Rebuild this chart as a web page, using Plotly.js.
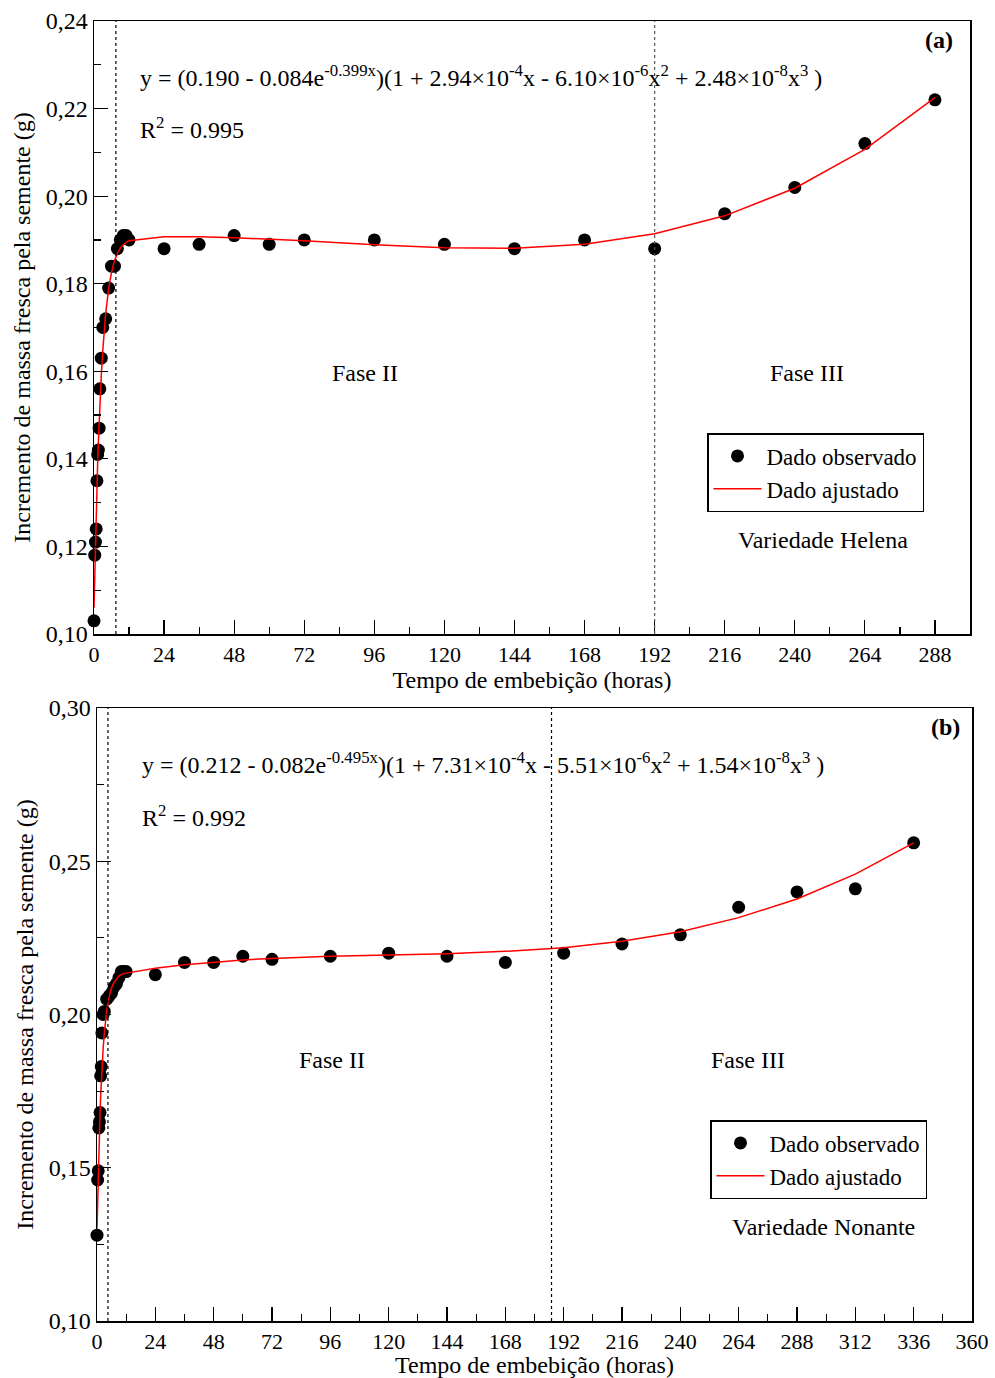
<!DOCTYPE html>
<html>
<head>
<meta charset="utf-8">
<script src="https://cdn.plot.ly/plotly-3.0.1.min.js"></script>
<style>html,body{margin:0;padding:0;background:#fff;}#chart{width:995px;height:1378px;}</style>
</head>
<body>
<div id="chart"></div>
<script>
// Panel (a) - Variedade Helena
const hoursA = [0,0.25,0.5,0.75,1,1.25,1.5,1.75,2,2.5,3,4,5,6,7,8,9,10,11,12,24,36,48,60,72,96,120,144,168,192,216,240,264,288];
const observedA = [0.103,0.118,0.121,0.124,0.135,0.141,0.142,0.147,0.156,0.163,0.170,0.172,0.179,0.184,0.184,0.188,0.190,0.191,0.191,0.190,0.188,0.189,0.191,0.189,0.190,0.190,0.189,0.188,0.190,0.188,0.196,0.202,0.212,0.222];
const fittedA = [0.1060,0.1140,0.1212,0.1277,0.1337,0.1391,0.1439,0.1483,0.1523,0.1591,0.1647,0.1732,0.1788,0.1826,0.1852,0.1869,0.1881,0.1889,0.1894,0.1898,0.1907,0.1907,0.1905,0.1902,0.1898,0.1889,0.1882,0.1881,0.1890,0.1914,0.1955,0.2018,0.2107,0.2225];
const phasesA = [7.5, 192];

// Panel (b) - Variedade Nonante
const hoursB = [0,0.25,0.5,0.75,1,1.25,1.5,1.75,2,2.5,3,4,5,6,7,8,9,10,11,12,24,36,48,60,72,96,120,144,168,192,216,240,264,288,312,336];
const observedB = [0.128,0.146,0.149,0.163,0.165,0.168,0.180,0.183,0.194,0.200,0.201,0.205,0.206,0.207,0.209,0.210,0.212,0.214,0.214,0.214,0.213,0.217,0.217,0.219,0.218,0.219,0.220,0.219,0.217,0.220,0.223,0.226,0.235,0.240,0.241,0.256];
const fittedB = [0.1300,0.1395,0.1481,0.1555,0.1621,0.1680,0.1732,0.1777,0.1818,0.1885,0.1938,0.2013,0.2058,0.2087,0.2105,0.2116,0.2125,0.2130,0.2134,0.2135,0.2151,0.2162,0.2171,0.2178,0.2183,0.2190,0.2194,0.2198,0.2206,0.2218,0.2239,0.2270,0.2316,0.2377,0.2458,0.2560];
const phasesB = [4.5, 187];

const xTicksA = [0,24,48,72,96,120,144,168,192,216,240,264,288];
const xTicksB = [0,24,48,72,96,120,144,168,192,216,240,264,288,312,336,360];

const serif = '"Liberation Serif", "Times New Roman", Times, serif';
const fontMain = {family: serif, size: 24, color: '#000'};
const fontTickY = {family: serif, size: 24, color: '#000'};
const fontTickX = {family: serif, size: 22, color: '#000'};
const fontLeg = {family: serif, size: 23, color: '#000'};

const traces = [
  {x: hoursA, y: observedA, xaxis:'x', yaxis:'y', mode:'markers', name:'Dado observado', legend:'legend',
   marker:{color:'#000', size:13}, cliponaxis:false},
  {x: hoursA, y: fittedA, xaxis:'x', yaxis:'y', mode:'lines', name:'Dado ajustado', legend:'legend',
   line:{color:'#ff0000', width:1.5}, cliponaxis:false},
  {x: hoursB, y: observedB, xaxis:'x2', yaxis:'y2', mode:'markers', name:'Dado observado', legend:'legend2',
   marker:{color:'#000', size:13}, cliponaxis:false},
  {x: hoursB, y: fittedB, xaxis:'x2', yaxis:'y2', mode:'lines', name:'Dado ajustado', legend:'legend2',
   line:{color:'#ff0000', width:1.5}, cliponaxis:false}
];

const axisCommon = {
  showgrid:false, zeroline:false, showline:true, mirror:true, linecolor:'#000', linewidth:1.5,
  ticks:'inside', ticklen:14, tickwidth:1.2, tickcolor:'#000'
};

const shapes = [];
phasesA.forEach((p,i) => shapes.push({type:'line', xref:'x', yref:'y domain', x0:p, x1:p, y0:0, y1:1,
  line:{color: i===0 ? '#000' : '#555', width:1.2, dash:'dot'}}));
phasesB.forEach(p => shapes.push({type:'line', xref:'x2', yref:'y2 domain', x0:p, x1:p, y0:0, y1:1,
  line:{color:'#000', width:1.2, dash:'dot'}}));

const eqA = 'y = (0.190 - 0.084e<sup>-0.399x</sup>)(1 + 2.94×10<sup>-4</sup>x - 6.10×10<sup>-6</sup>x<sup>2</sup> + 2.48×10<sup>-8</sup>x<sup>3</sup> )';
const eqB = 'y = (0.212 - 0.082e<sup>-0.495x</sup>)(1 + 7.31×10<sup>-4</sup>x - 5.51×10<sup>-6</sup>x<sup>2</sup> + 1.54×10<sup>-8</sup>x<sup>3</sup> )';

function ann(ax, text, x, y, xanchor, extra) {
  return Object.assign({xref: ax[0]+' domain', yref: ax[1]+' domain', x:x, y:y, text:text,
    showarrow:false, xanchor:xanchor, yanchor:'middle', font: fontMain}, extra||{});
}
const A = ['x','y'], B = ['x2','y2'];
const annotations = [
  ann(A, eqA, 0.050, 0.910, 'left'),
  ann(A, 'R<sup>2</sup> = 0.995', 0.050, 0.826, 'left'),
  ann(A, '<b>(a)</b>', 0.983, 0.969, 'right'),
  ann(A, 'Fase II', 0.309, 0.426, 'center'),
  ann(A, 'Fase III', 0.814, 0.426, 'center'),
  ann(A, 'Variedade Helena', 0.832, 0.153, 'center'),
  ann(B, eqB, 0.049, 0.910, 'left'),
  ann(B, 'R<sup>2</sup> = 0.992', 0.049, 0.824, 'left'),
  ann(B, '<b>(b)</b>', 0.988, 0.969, 'right'),
  ann(B, 'Fase II', 0.2686, 0.426, 'center'),
  ann(B, 'Fase III', 0.744, 0.426, 'center'),
  ann(B, 'Variedade Nonante', 0.830, 0.153, 'center')
];

const layout = {
  width: 995, height: 1378,
  margin: {l:0, r:0, t:0, b:0},
  paper_bgcolor:'#fff', plot_bgcolor:'#fff',
  separators: ',.',
  font: fontMain,
  showlegend: true,
  xaxis: Object.assign({}, axisCommon, {domain:[94/995, 970/995], range:[0,300], tickvals:xTicksA, tickfont:fontTickX,
    minor:{dtick:12, tick0:0, ticks:'inside', ticklen:7, tickwidth:1.2, tickcolor:'#000'},
    title:{text:'Tempo de embebição (horas)', font:fontMain, standoff:0}, anchor:'y'}),
  yaxis: Object.assign({}, axisCommon, {domain:[1-634/1378, 1-21/1378], range:[0.10,0.24], dtick:0.02, tick0:0.10,
    tickformat:'.2f', tickfont:fontTickY,
    minor:{dtick:0.01, tick0:0.10, ticks:'inside', ticklen:7, tickwidth:1.2, tickcolor:'#000'},
    title:{text:'Incremento de massa fresca pela semente (g)', font:fontMain, standoff:8}, anchor:'x'}),
  xaxis2: Object.assign({}, axisCommon, {domain:[97/995, 972/995], range:[0,360], tickvals:xTicksB, tickfont:fontTickX,
    minor:{dtick:12, tick0:0, ticks:'inside', ticklen:7, tickwidth:1.2, tickcolor:'#000'},
    title:{text:'Tempo de embebição (horas)', font:fontMain, standoff:0}, anchor:'y2'}),
  yaxis2: Object.assign({}, axisCommon, {domain:[1-1321/1378, 1-708/1378], range:[0.10,0.30], dtick:0.05, tick0:0.10,
    tickformat:'.2f', tickfont:fontTickY,
    minor:{dtick:0.025, tick0:0.10, ticks:'inside', ticklen:7, tickwidth:1.2, tickcolor:'#000'},
    title:{text:'Incremento de massa fresca pela semente (g)', font:fontMain, standoff:8}, anchor:'x2'}),
  legend: {x:707/995, y:1-433/1378, xanchor:'left', yanchor:'top', bgcolor:'#fff', bordercolor:'#000', borderwidth:1.5,
    font:fontLeg, tracegroupgap:0, itemwidth:48},
  legend2: {x:710/995, y:1-1120/1378, xanchor:'left', yanchor:'top', bgcolor:'#fff', bordercolor:'#000', borderwidth:1.5,
    font:fontLeg, tracegroupgap:0, itemwidth:48},
  shapes: shapes,
  annotations: annotations
};

Plotly.newPlot('chart', traces, layout, {staticPlot:true, displayModeBar:false});
</script>
</body>
</html>
